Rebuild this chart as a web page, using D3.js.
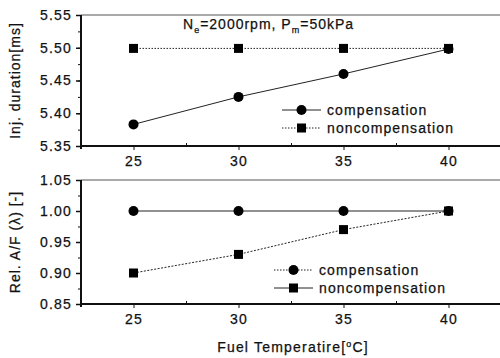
<!DOCTYPE html>
<html>
<head>
<meta charset="utf-8">
<script src="https://cdn.jsdelivr.net/npm/d3@7"></script>
<style>
  body { margin: 0; background: #fff; }
  text { font-family: "Liberation Sans", Arial, sans-serif; fill: #111; stroke: #111; stroke-width: 0.25px; }
</style>
</head>
<body>
<div id="chart"></div>
<script>
// data
const temps = [25, 30, 35, 40];
const injComp = [5.383, 5.425, 5.460, 5.498];
const injNoComp = [5.499, 5.499, 5.499, 5.499];
const afComp = [1.0, 1.0, 1.0, 1.0];
const afNoComp = [0.90, 0.93, 0.97, 1.0];
const injTicks = [5.35, 5.40, 5.45, 5.50, 5.55];
const afTicks = [0.85, 0.90, 0.95, 1.00, 1.05];

const width = 500, height = 358;
const svg = d3.select("#chart").append("svg")
    .attr("width", width).attr("height", height);

const x = d3.scaleLinear().domain([22.5, 42.5]).range([81, 501]);

function panel(top, bottom, yDom, yTicks, fmtLabel, series, legend) {
    const y = d3.scaleLinear().domain(yDom).range([bottom, top]);
    const g = svg.append("g");

    // top frame line (faint)
    g.append("line")
        .attr("x1", x(22.5)).attr("x2", x(42.5))
        .attr("y1", y(yDom[1])).attr("y2", y(yDom[1]))
        .attr("stroke", "#555").attr("stroke-width", 1);

    // y axis
    const minor = d3.range(yDom[0], yDom[1] + 1e-9, (yTicks[1] - yTicks[0]) / 2);
    g.append("g")
        .attr("transform", `translate(${x(22.5)},0)`)
        .call(d3.axisLeft(y).tickValues(minor).tickSize(3).tickFormat(""))
        .call(a => a.select(".domain").remove())
        .selectAll("line").attr("stroke", "#111");
    const ya = g.append("g")
        .attr("transform", `translate(${x(22.5)},0)`)
        .call(d3.axisLeft(y).tickValues(yTicks).tickSize(5).tickPadding(4).tickFormat(d3.format(".2f")));
    ya.select(".domain").attr("stroke", "#111").attr("stroke-width", 2)
        .attr("d", `M0,${y(yDom[1])}V${bottom + 3}`);
    ya.selectAll("line").attr("stroke", "#111").attr("stroke-width", 1.5);
    ya.selectAll("text").style("font-size", "14px").style("letter-spacing", "1.2px")
        .style("font-family", "Liberation Sans, Arial, sans-serif");

    // x axis
    g.append("g")
        .attr("transform", `translate(0,${bottom})`)
        .call(d3.axisBottom(x).tickValues([27.5, 32.5, 37.5]).tickSize(-3).tickFormat(""))
        .call(a => a.select(".domain").remove())
        .selectAll("line").attr("stroke", "#111");
    const xa = g.append("g")
        .attr("transform", `translate(0,${bottom})`)
        .call(d3.axisBottom(x).tickValues(temps).tickSize(4).tickPadding(6));
    xa.select(".domain").attr("stroke", "#111").attr("stroke-width", 2)
        .attr("d", `M${x(22.5)},0H${x(42.5)}`);
    xa.selectAll("line").attr("stroke", "#111");
    xa.selectAll("text").style("font-size", "14px").style("letter-spacing", "1.2px")
        .style("font-family", "Liberation Sans, Arial, sans-serif");

    // y label
    svg.append("text")
        .attr("transform", `translate(20,${(top + bottom) / 2}) rotate(-90)`)
        .attr("text-anchor", "middle")
        .style("font-size", "14px").style("letter-spacing", "1px")
        .text(fmtLabel);

    const line = d3.line().x((d, i) => x(temps[i])).y(d => y(d));
    series.forEach(s => {
        g.append("path").datum(s.values)
            .attr("d", line).attr("fill", "none")
            .attr("stroke", "#222").attr("stroke-width", 1)
            .attr("stroke-dasharray", s.dash || null);
        drawMarkers(g, s.values.map((v, i) => [x(temps[i]), y(v)]), s.shape);
    });

    // legend
    legend.items.forEach((it, i) => {
        const ly = legend.y + i * 18;
        g.append("line")
            .attr("x1", legend.x).attr("x2", legend.x + 39)
            .attr("y1", ly).attr("y2", ly)
            .attr("stroke", "#222").attr("stroke-width", 1)
            .attr("stroke-dasharray", it.dash || null);
        drawMarkers(g, [[legend.x + 19.5, ly]], it.shape);
        g.append("text")
            .attr("x", legend.x + 45).attr("y", ly + 5)
            .style("font-size", "14px").style("letter-spacing", "1.1px")
            .text(it.label);
    });
}

function drawMarkers(g, pts, shape) {
    if (shape === "circle") {
        g.selectAll(null).data(pts).join("circle")
            .attr("cx", d => d[0]).attr("cy", d => d[1]).attr("r", 5)
            .attr("fill", "#000");
    } else {
        g.selectAll(null).data(pts).join("rect")
            .attr("x", d => d[0] - 4.5).attr("y", d => d[1] - 4.5)
            .attr("width", 9).attr("height", 9).attr("fill", "#000");
    }
}

panel(15, 146, [5.35, 5.55], injTicks, "Inj. duration[ms]",
    [{values: injNoComp, shape: "rect", dash: "1.5,1.5"},
     {values: injComp, shape: "circle"}],
    {x: 282, y: 110, items: [
        {label: "compensation", shape: "circle"},
        {label: "noncompensation", shape: "rect", dash: "1.5,1.5"}]});

panel(180, 304, [0.85, 1.05], afTicks, "Rel. A/F (\u03bb) [-]",
    [{values: afComp, shape: "circle"},
     {values: afNoComp, shape: "rect", dash: "2,1.5"}],
    {x: 274, y: 270, items: [
        {label: "compensation", shape: "circle", dash: "1.5,1.5"},
        {label: "noncompensation", shape: "rect"}]});

// annotation
const ann = svg.append("text").attr("x", 183).attr("y", 29)
    .style("font-size", "14px").style("letter-spacing", "1px");
ann.append("tspan").text("N");
ann.append("tspan").attr("dy", 4).style("font-size", "9px").text("e");
ann.append("tspan").attr("dy", -4).text("=2000rpm, P");
ann.append("tspan").attr("dy", 4).style("font-size", "9px").text("m");
ann.append("tspan").attr("dy", -4).text("=50kPa");

// x label
const xl = svg.append("text").attr("x", 293).attr("y", 352)
    .attr("text-anchor", "middle")
    .style("font-size", "14px").style("letter-spacing", "1.2px");
xl.append("tspan").text("Fuel Temperatire[");
xl.append("tspan").attr("dy", -5).style("font-size", "9px").text("o");
xl.append("tspan").attr("dy", 5).text("C]");
</script>
</body>
</html>
